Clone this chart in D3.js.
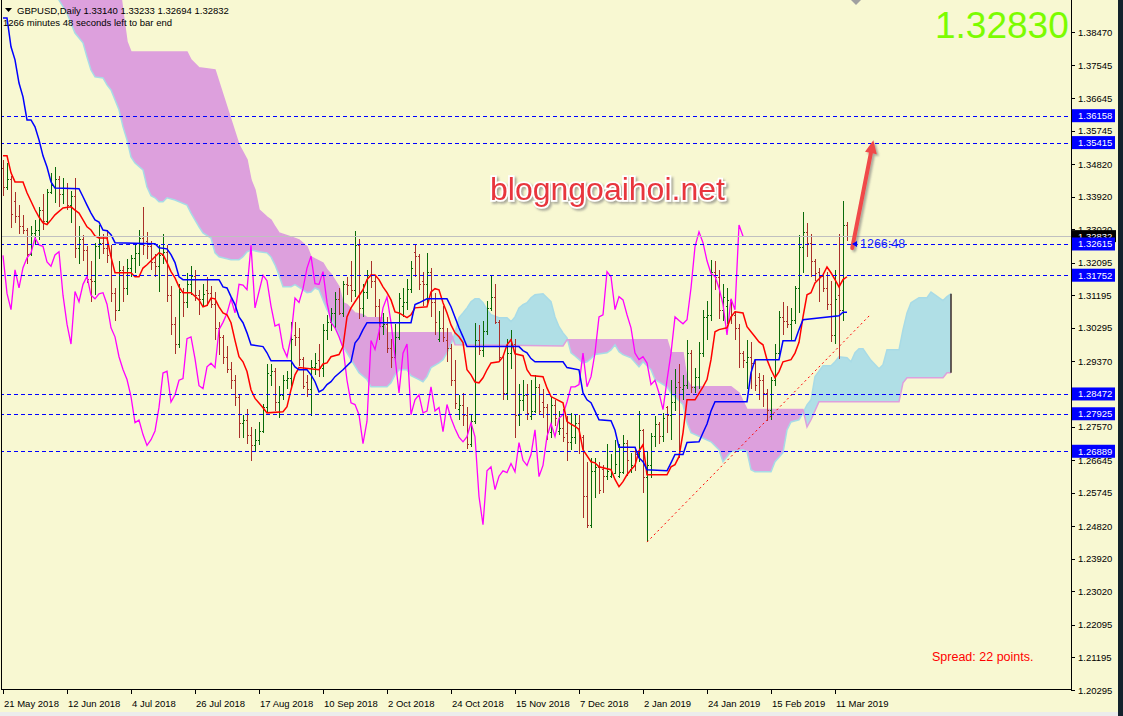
<!DOCTYPE html>
<html>
<head>
<meta charset="utf-8">
<script src="https://cdn.jsdelivr.net/npm/d3@7"></script>
<style>
  body { margin: 0; background: #f8f8d2; }
  svg { display: block; }
  text { font-family: "Liberation Sans", Arial, sans-serif; }
</style>
</head>
<body>
<svg id="chart" width="1123" height="716"></svg>
<script>
// GBPUSD daily, 21 May 2018 .. 14 Mar 2019 (bar index 0..211)
const dateLabels = ["21 May 2018", "12 Jun 2018", "4 Jul 2018", "26 Jul 2018", "17 Aug 2018", "10 Sep 2018", "2 Oct 2018",
  "24 Oct 2018", "15 Nov 2018", "7 Dec 2018", "2 Jan 2019", "24 Jan 2019", "15 Feb 2019", "11 Mar 2019"];
const dateLabelBars = [0, 16, 32, 48, 64, 80, 96, 112, 128, 144, 160, 176, 192, 208];

const priceTicks = [1.38470, 1.37545, 1.36645, 1.35745, 1.34820, 1.33920, 1.33020, 1.32095, 1.31195, 1.30295, 1.29370,
  1.27570, 1.26645, 1.25745, 1.24820, 1.23920, 1.23020, 1.22095, 1.21195, 1.20295];
const levels = [1.36158, 1.35415, 1.32615, 1.31752, 1.28472, 1.27925, 1.26889];
const bid = 1.32832;

const opens = [1.3470,1.3420,1.3440,1.3380,1.3340,1.3310,1.3300,1.3235,1.3292,1.3300,1.3355,1.3325,1.3405,1.3420,1.3440,1.3400,1.3415,1.3370,1.3395,1.3250,1.3275,1.3245,1.3165,1.3160,1.3255,1.3265,
  1.3250,1.3230,1.3125,1.3080,1.3190,1.3140,1.3196,1.3223,1.3237,1.3278,1.3270,1.3255,1.3212,1.3200,1.3231,1.3240,1.3120,1.3040,1.2985,1.3130,1.3102,1.3150,1.3172,1.3120,1.3110,1.3135,
  1.3127,1.3095,1.3030,1.3005,1.2950,1.2915,1.2887,1.2840,1.2768,1.2775,1.2735,1.2705,1.2721,1.2745,1.2810,1.2900,1.2910,1.2825,1.2845,1.2885,1.2890,1.3010,1.3005,1.2945,1.2880,1.2862,
  1.2922,1.2940,1.2920,1.3025,1.3045,1.3070,1.3110,1.3071,1.3150,1.3148,1.3135,1.3258,1.3085,1.3130,1.3175,1.3160,1.3090,1.3035,1.3040,1.2975,1.2950,1.3005,1.3090,1.3100,1.3138,1.3240,
  1.3228,1.3160,1.3150,1.3185,1.3100,1.3000,1.3030,1.2995,1.2975,1.2885,1.2805,1.2818,1.2790,1.2710,1.2772,1.2995,1.2970,1.3020,1.3085,1.3115,1.3045,1.2950,1.2850,1.2960,1.2985,1.2790,
  1.2831,1.2845,1.2785,1.2800,1.2867,1.2825,1.2810,1.2743,1.2818,1.2745,1.2752,1.2740,1.2715,1.2729,1.2768,1.2729,1.2564,1.2486,1.2635,1.2646,1.2640,1.2620,1.2620,1.2630,1.2620,1.2632,
  1.2713,1.2640,1.2690,1.2680,1.2748,1.2619,1.2650,1.2730,1.2765,1.2730,1.2810,1.2790,1.2825,1.2880,1.2860,1.2873,1.2960,1.2867,1.2895,1.2961,1.3060,1.3066,1.3185,1.3171,1.3080,1.3090,
  1.3107,1.3066,1.3030,1.2960,1.2935,1.2950,1.2933,1.2895,1.2885,1.2850,1.2804,1.2885,1.2960,1.3060,1.3050,1.3041,1.3052,1.3140,1.3254,1.3295,1.3265,1.3215,1.3185,1.3172,1.3140,1.3095,
  1.3010,1.3120,1.3080,1.3314];
const highs = [1.3494,1.3485,1.3448,1.3405,1.3370,1.3342,1.3305,1.3310,1.3328,1.3365,1.3400,1.3412,1.3458,1.3473,1.3448,1.3445,1.3430,1.3408,1.3445,1.3310,1.3285,1.3255,1.3215,1.3265,1.3315,1.3290,
  1.3300,1.3260,1.3140,1.3215,1.3200,1.3220,1.3230,1.3260,1.3300,1.3363,1.3295,1.3270,1.3235,1.3260,1.3290,1.3260,1.3145,1.3060,1.3150,1.3140,1.3180,1.3200,1.3190,1.3135,1.3150,1.3170,
  1.3145,1.3130,1.3045,1.3010,1.2980,1.2935,1.2900,1.2845,1.2790,1.2805,1.2755,1.2750,1.2770,1.2820,1.2930,1.2930,1.2920,1.2870,1.2900,1.2910,1.3045,1.3045,1.3030,1.2950,1.2900,1.2940,
  1.2960,1.2985,1.3040,1.3065,1.3085,1.3130,1.3140,1.3160,1.3170,1.3215,1.3298,1.3275,1.3150,1.3190,1.3215,1.3175,1.3110,1.3070,1.3060,1.3000,1.3040,1.3125,1.3140,1.3165,1.3215,1.3258,
  1.3235,1.3185,1.3237,1.3195,1.3125,1.3075,1.3090,1.3030,1.2985,1.2940,1.2845,1.2850,1.2810,1.2790,1.3043,1.3038,1.3050,1.3105,1.3176,1.3150,1.3052,1.2955,1.3000,1.3025,1.3000,1.2875,
  1.2885,1.2875,1.2885,1.2900,1.2875,1.2860,1.2820,1.2840,1.2830,1.2800,1.2805,1.2785,1.2795,1.2790,1.2790,1.2735,1.2660,1.2670,1.2670,1.2660,1.2650,1.2710,1.2680,1.2720,1.2710,1.2735,
  1.2720,1.2685,1.2700,1.2800,1.2750,1.2690,1.2740,1.2785,1.2770,1.2795,1.2815,1.2887,1.2915,1.2930,1.2900,1.2997,1.2970,1.2920,1.2990,1.3080,1.3105,1.3218,1.3215,1.3190,1.3150,1.3140,
  1.3110,1.3075,1.3040,1.2965,1.2997,1.2990,1.2940,1.2905,1.2900,1.2860,1.2895,1.2985,1.3075,1.3100,1.3090,1.3085,1.3145,1.3287,1.3350,1.3320,1.3290,1.3220,1.3195,1.3180,1.3185,1.3160,
  1.3190,1.3290,1.3380,1.3323];
const lows = [1.3395,1.3410,1.3306,1.3320,1.3290,1.3290,1.3205,1.3228,1.3262,1.3272,1.3300,1.3318,1.3400,1.3375,1.3365,1.3372,1.3355,1.3320,1.3222,1.3205,1.3215,1.3155,1.3100,1.3120,1.3220,1.3235,
  1.3210,1.3100,1.3050,1.3075,1.3100,1.3120,1.3170,1.3180,1.3200,1.3230,1.3220,1.3190,1.3170,1.3130,1.3205,1.3100,1.3010,1.2958,1.2975,1.3060,1.3085,1.3120,1.3105,1.3065,1.3090,1.3090,
  1.3085,1.2995,1.2955,1.2930,1.2905,1.2860,1.2815,1.2725,1.2725,1.2710,1.2662,1.2690,1.2705,1.2740,1.2795,1.2870,1.2800,1.2780,1.2830,1.2860,1.2860,1.2980,1.2925,1.2860,1.2840,1.2785,
  1.2900,1.2895,1.2895,1.2995,1.3020,1.3030,1.3065,1.3060,1.3120,1.3100,1.3115,1.3055,1.3060,1.3110,1.3140,1.3060,1.2995,1.3010,1.2960,1.2920,1.2935,1.2995,1.3060,1.3080,1.3125,1.3170,
  1.3135,1.3090,1.3090,1.3060,1.3010,1.2990,1.2990,1.2935,1.2870,1.2805,1.2775,1.2760,1.2696,1.2700,1.2765,1.2955,1.2950,1.3010,1.3075,1.3040,1.2935,1.2830,1.2830,1.2915,1.2725,1.2760,
  1.2800,1.2775,1.2775,1.2795,1.2790,1.2780,1.2720,1.2725,1.2760,1.2735,1.2715,1.2662,1.2693,1.2710,1.2680,1.2505,1.2477,1.2477,1.2560,1.2570,1.2575,1.2610,1.2615,1.2625,1.2615,1.2625,
  1.2620,1.2630,1.2635,1.2660,1.2575,1.2438,1.2615,1.2700,1.2710,1.2715,1.2740,1.2720,1.2800,1.2670,1.2830,1.2860,1.2850,1.2850,1.2860,1.2950,1.2995,1.3050,1.3135,1.3055,1.3050,1.3040,
  1.3040,1.2995,1.2920,1.2920,1.2860,1.2860,1.2855,1.2830,1.2810,1.2773,1.2775,1.2870,1.2945,1.3010,1.3030,1.2995,1.3040,1.3070,1.3180,1.3225,1.3170,1.3160,1.3100,1.3130,1.3080,1.2990,
  1.2985,1.2945,1.3050,1.3269];
const closes = [1.3420,1.3440,1.3345,1.3340,1.3310,1.3300,1.3235,1.3292,1.3300,1.3355,1.3325,1.3405,1.3425,1.3440,1.3400,1.3415,1.3370,1.3395,1.3250,1.3275,1.3245,1.3165,1.3160,1.3255,1.3265,1.3250,
  1.3230,1.3125,1.3080,1.3190,1.3140,1.3196,1.3223,1.3237,1.3278,1.3259,1.3255,1.3212,1.3200,1.3231,1.3240,1.3120,1.3040,1.2985,1.3130,1.3102,1.3150,1.3172,1.3120,1.3110,1.3124,1.3127,
  1.3095,1.3030,1.3005,1.2950,1.2915,1.2887,1.2840,1.2768,1.2775,1.2735,1.2705,1.2721,1.2745,1.2810,1.2905,1.2910,1.2825,1.2845,1.2885,1.2890,1.3000,1.3005,1.2945,1.2870,1.2862,1.2922,
  1.2932,1.2920,1.3025,1.3045,1.3070,1.3110,1.3071,1.3150,1.3148,1.3135,1.3258,1.3085,1.3130,1.3175,1.3160,1.3090,1.3035,1.3040,1.2975,1.2950,1.3005,1.3112,1.3100,1.3138,1.3195,1.3228,
  1.3152,1.3150,1.3185,1.3100,1.3045,1.3030,1.3005,1.2975,1.2885,1.2823,1.2818,1.2790,1.2710,1.2772,1.2995,1.2970,1.3020,1.3085,1.3115,1.3045,1.2950,1.2850,1.2960,1.2985,1.2790,1.2831,
  1.2845,1.2795,1.2800,1.2867,1.2800,1.2810,1.2743,1.2818,1.2780,1.2752,1.2728,1.2715,1.2729,1.2768,1.2729,1.2564,1.2486,1.2635,1.2646,1.2583,1.2620,1.2635,1.2630,1.2655,1.2632,1.2713,
  1.2664,1.2650,1.2680,1.2748,1.2619,1.2650,1.2730,1.2765,1.2730,1.2780,1.2790,1.2825,1.2867,1.2867,1.2873,1.2960,1.2867,1.2895,1.2961,1.3060,1.3066,1.3185,1.3171,1.3080,1.3116,1.3107,
  1.3066,1.3030,1.2960,1.2942,1.2950,1.2933,1.2873,1.2885,1.2850,1.2804,1.2885,1.2960,1.3060,1.3050,1.3041,1.3052,1.3140,1.3254,1.3295,1.3265,1.3215,1.3180,1.3172,1.3140,1.3095,1.3010,
  1.3110,1.3080,1.3314,1.3283];

// Ichimoku lines as [bar index, price] vertices
const tenkan = [[0,1.3505],[1,1.3505],[2,1.3458],[3,1.3433],[5,1.3433],[6,1.3403],[8,1.3356],[9,1.3336],[10,1.3320],[11,1.3315],[12,1.3328],[13,1.3342],[15,1.3361],[17,1.3364],[18,1.3355],[19,1.3347],[20,1.3328],[21,1.3309],[22,1.3300],[23,1.3284],[24,1.3278],[26,1.3278],[27,1.3226],[28,1.3182],[32,1.3182],[33,1.3171],[34,1.3171],[35,1.3195],[36,1.3204],[37,1.3215],[38,1.3226],[39,1.3237],[40,1.3232],[41,1.3210],[42,1.3185],[43,1.3168],[44,1.3143],[45,1.3127],[47,1.3127],[49,1.3107],[50,1.3088],[51,1.3092],[52,1.3112],[53,1.3110],[54,1.3088],[55,1.3071],[56,1.3066],[57,1.3044],[58,1.2995],[59,1.2950],[60,1.2936],[61,1.2909],[62,1.2859],[63,1.2835],[64,1.2822],[65,1.2809],[66,1.2795],[70,1.2798],[71,1.2812],[72,1.2859],[73,1.2900],[74,1.2920],[79,1.2914],[80,1.2930],[81,1.2933],[82,1.2950],[84,1.2956],[85,1.2978],[86,1.3060],[87,1.3085],[88,1.3102],[90,1.3135],[91,1.3163],[92,1.3176],[93,1.3176],[94,1.3163],[95,1.3143],[96,1.3127],[97,1.3107],[98,1.3074],[99,1.3071],[101,1.3058],[102,1.3066],[103,1.3085],[106,1.3088],[107,1.3129],[108,1.3138],[109,1.3135],[110,1.3099],[111,1.3071],[112,1.3038],[113,1.3016],[114,1.3005],[115,1.2989],[116,1.2914],[117,1.2900],[118,1.2880],[119,1.2878],[120,1.2892],[121,1.2914],[122,1.2933],[124,1.2936],[125,1.2950],[126,1.2983],[127,1.2997],[128,1.2958],[130,1.2953],[131,1.2914],[132,1.2898],[135,1.2895],[136,1.2864],[137,1.2840],[140,1.2823],[141,1.2771],[142,1.2764],[143,1.2758],[144,1.2749],[145,1.2693],[147,1.2660],[148,1.2657],[149,1.2646],[152,1.2638],[153,1.2611],[154,1.2591],[155,1.2605],[156,1.2624],[157,1.2638],[158,1.2650],[159,1.2690],[160,1.2707],[161,1.2624],[166,1.2624],[167,1.2646],[168,1.2652],[169,1.2674],[170,1.2740],[171,1.2831],[173,1.2831],[175,1.2867],[176,1.2887],[177,1.2942],[178,1.3019],[179,1.3025],[181,1.3030],[182,1.3060],[183,1.3074],[185,1.3071],[186,1.3033],[187,1.3019],[188,1.3005],[189,1.2991],[190,1.2983],[191,1.2942],[192,1.2914],[193,1.2892],[194,1.2909],[195,1.2936],[197,1.2942],[198,1.2960],[199,1.2990],[200,1.3060],[201,1.3121],[202,1.3127],[203,1.3154],[205,1.3176],[206,1.3198],[207,1.3182],[208,1.3163],[209,1.3143],[210,1.3163],[211,1.3171]];
const kijun = [[0,1.3886],[1,1.3886],[2,1.3806],[3,1.3770],[4,1.3706],[5,1.3668],[6,1.3604],[7,1.3604],[8,1.3585],[9,1.3549],[10,1.3505],[11,1.3474],[12,1.3433],[13,1.3416],[19,1.3414],[20,1.3392],[21,1.3369],[22,1.3347],[23,1.3328],[24,1.3322],[25,1.3300],[26,1.3298],[27,1.3287],[28,1.3265],[38,1.3262],[39,1.3251],[41,1.3248],[42,1.3232],[43,1.3210],[44,1.3171],[45,1.3163],[54,1.3163],[55,1.3143],[56,1.3140],[57,1.3116],[58,1.3094],[59,1.3060],[60,1.3044],[61,1.3016],[62,1.2983],[65,1.2978],[66,1.2961],[67,1.2939],[72,1.2939],[73,1.2922],[74,1.2914],[76,1.2914],[77,1.2900],[78,1.2881],[79,1.2853],[80,1.2859],[81,1.2873],[82,1.2881],[83,1.2895],[85,1.2914],[87,1.2936],[88,1.2988],[89,1.3002],[90,1.3025],[91,1.3044],[102,1.3044],[103,1.3094],[104,1.3099],[106,1.3110],[111,1.3110],[112,1.3088],[114,1.3030],[115,1.3005],[116,1.2978],[129,1.2978],[130,1.2967],[131,1.2961],[132,1.2945],[133,1.2936],[140,1.2936],[141,1.2920],[144,1.2914],[145,1.2850],[146,1.2831],[147,1.2823],[148,1.2800],[149,1.2776],[152,1.2773],[153,1.2747],[154,1.2700],[158,1.2700],[159,1.2671],[160,1.2660],[161,1.2638],[166,1.2635],[167,1.2657],[168,1.2680],[170,1.2680],[171,1.2713],[174,1.2715],[175,1.2740],[176,1.2764],[177,1.2800],[178,1.2826],[186,1.2826],[187,1.2906],[188,1.2942],[194,1.2942],[195,1.2994],[198,1.2994],[199,1.3025],[200,1.3052],[209,1.3063],[210,1.3073],[211,1.3073]];
const spanA = [[13,1.3965],[14,1.3935],[16,1.3899],[18,1.3844],[20,1.3817],[21,1.3778],[22,1.3742],[23,1.3723],[25,1.3720],[26,1.3701],[27,1.3687],[29,1.3632],[30,1.3585],[31,1.3549],[32,1.3502],[33,1.3485],[35,1.3466],[36,1.3419],[37,1.3395],[38,1.3389],[39,1.3378],[40,1.3378],[41,1.3389],[43,1.3383],[46,1.3369],[47,1.3347],[49,1.3309],[50,1.3292],[52,1.3278],[53,1.3237],[54,1.3226],[57,1.3218],[59,1.3218],[60,1.3226],[61,1.3240],[62,1.3245],[64,1.3240],[66,1.3237],[67,1.3226],[68,1.3204],[69,1.3176],[70,1.3143],[72,1.3143],[73,1.3149],[75,1.3135],[76,1.3127],[77,1.3129],[78,1.3140],[79,1.3135],[80,1.3107],[81,1.3080],[82,1.3060],[83,1.3033],[84,1.3011],[85,1.2978],[86,1.2961],[87,1.2942],[89,1.2906],[91,1.2887],[92,1.2867],[96,1.2867],[97,1.2878],[98,1.2900],[99,1.2914],[101,1.2914],[102,1.2898],[104,1.2887],[105,1.2881],[106,1.2895],[107,1.2920],[109,1.2933],[110,1.2942],[111,1.2961],[112,1.2983],[113,1.3016],[114,1.3058],[115,1.3071],[116,1.3085],[117,1.3102],[118,1.3110],[119,1.3110],[120,1.3099],[121,1.3080],[122,1.3066],[124,1.3058],[126,1.3058],[127,1.3047],[128,1.3060],[129,1.3085],[130,1.3094],[131,1.3099],[132,1.3113],[133,1.3121],[135,1.3124],[137,1.3102],[138,1.3060],[139,1.3033],[140,1.3016],[141,1.3002],[142,1.2961],[143,1.2952],[145,1.2933],[146,1.2936],[147,1.2945],[148,1.2956],[151,1.2961],[152,1.2969],[153,1.2983],[154,1.2964],[155,1.2956],[157,1.2947],[159,1.2922],[160,1.2936],[162,1.2914],[163,1.2887],[166,1.2867],[167,1.2850],[170,1.2818],[171,1.2768],[172,1.2740],[177,1.2715],[179,1.2693],[180,1.2660],[181,1.2674],[182,1.2688],[185,1.2693],[186,1.2688],[187,1.2638],[188,1.2632],[192,1.2632],[193,1.2660],[195,1.2685],[196,1.2748],[197,1.2770],[199,1.2776],[200,1.2795],[201,1.2817],[202,1.2831],[203,1.2895],[205,1.2925],[207,1.2925],[208,1.2936],[209,1.2950],[211,1.2947],[212,1.2936],[213,1.2961],[214,1.2972],[215,1.2972],[216,1.2956],[217,1.2940],[219,1.2917],[220,1.2928],[221,1.2969],[224,1.2969],[225,1.3025],[226,1.3071],[227,1.3099],[229,1.3113],[231,1.3113],[232,1.3129],[233,1.3121],[235,1.3105],[236,1.3116],[237,1.3124]];
const spanB = [[13,1.4004],[24,1.4004],[29,1.3990],[30,1.3900],[31,1.3820],[32,1.3792],[46,1.3792],[47,1.3770],[49,1.3748],[53,1.3742],[55,1.3673],[57,1.3604],[59,1.3535],[61,1.3494],[62,1.3438],[63,1.3411],[64,1.3356],[66,1.3336],[67,1.3328],[68,1.3309],[69,1.3292],[72,1.3281],[74,1.3273],[76,1.3254],[77,1.3226],[78,1.3220],[80,1.3209],[81,1.3190],[82,1.3178],[84,1.3143],[85,1.3099],[86,1.3094],[88,1.3071],[90,1.3066],[91,1.3058],[95,1.3058],[96,1.3016],[112,1.3016],[113,1.2983],[140,1.2980],[141,1.2997],[166,1.2997],[167,1.2961],[170,1.2961],[171,1.2887],[172,1.2867],[182,1.2867],[184,1.2850],[186,1.2804],[200,1.2804],[201,1.2756],[202,1.2776],[204,1.2826],[224,1.2826],[225,1.2878],[226,1.2892],[235,1.2892],[236,1.2906],[237,1.2906]];

// hand-drawn objects on the chart
const trendFrom = [161, 1.2438], trendTo = [217, 1.3068];
const arrowFrom = [212.3, 1.3250], arrowTo = [217.6, 1.3548];

const W = 1123, H = 716;
const plotRight = 1071, plotBottom = 689;
const x = d3.scaleLinear().domain([0, 211]).range([3, 847]);
const y = d3.scaleLinear().domain([1.20295, 1.38470]).range([690, 32]);

const svg = d3.select("#chart");
svg.append("rect").attr("width", W).attr("height", H).attr("fill", "#f8f8d2");
const defs = svg.append("defs");
defs.append("clipPath").attr("id", "plotClip")
  .append("rect").attr("x", 1).attr("y", 0).attr("width", plotRight - 1).attr("height", plotBottom);

const toPix = arr => arr.map(([i, p]) => [x(i), y(p)]);
const line = d3.line();
const aPix = toPix(spanA), bPix = toPix(spanB);
const left = bPix[0][0] - 4, right = bPix[bPix.length - 1][0] + 4;
defs.append("clipPath").attr("id", "aboveB").append("path")
  .attr("d", line([...bPix, [right, -100], [left, -100]]) + "Z");
defs.append("clipPath").attr("id", "belowB").append("path")
  .attr("d", line([...bPix, [right, 900], [left, 900]]) + "Z");

const shadow = defs.append("filter").attr("id", "shadow").attr("x", "-20%").attr("y", "-20%").attr("width", "140%").attr("height", "140%");
shadow.append("feDropShadow").attr("dx", 2).attr("dy", 2).attr("stdDeviation", 1.2).attr("flood-color", "#777").attr("flood-opacity", 0.6);

const g = svg.append("g").attr("clip-path", "url(#plotClip)");

// kumo
const cloud = line([...aPix, ...bPix.slice().reverse()]) + "Z";
g.append("path").attr("d", cloud).attr("fill", "#dda0dd").attr("clip-path", "url(#belowB)");
g.append("path").attr("d", cloud).attr("fill", "#b0dfe6").attr("clip-path", "url(#aboveB)");
g.append("path").attr("d", line(aPix)).attr("fill", "none").attr("stroke", "#a8dbe6").attr("stroke-width", 1.5);
g.append("path").attr("d", line(bPix)).attr("fill", "none").attr("stroke", "#dda0dd").attr("stroke-width", 1.5);
// last cloud bar edge
g.append("line")
  .attr("x1", x(237)).attr("x2", x(237))
  .attr("y1", y(spanA[spanA.length - 1][1])).attr("y2", y(spanB[spanB.length - 1][1]))
  .attr("stroke", "#3a2a2a").attr("stroke-width", 1.5);

// OHLC bars
const bars = g.append("g").attr("fill", "none").attr("shape-rendering", "crispEdges");
bars.selectAll("path").data(d3.range(closes.length)).join("path")
  .attr("d", i => {
    const cx = Math.round(x(i)) + 0.5;
    const yo = Math.round(y(opens[i])) + 0.5, yc = Math.round(y(closes[i])) + 0.5;
    return `M${cx},${y(highs[i])}V${y(lows[i])}M${cx - 1.5},${yo}H${cx}M${cx},${yc}H${cx + 1.5}`;
  })
  .attr("stroke", i => closes[i] >= opens[i] ? "#0a6a0a" : "#a8302a");

// chikou span = closes shifted back 26 bars
const chikou = d3.line().x((d, i) => x(i)).y(d => y(d));
g.append("path").attr("d", chikou(closes.slice(26)))
  .attr("fill", "none").attr("stroke", "#ff00ff").attr("stroke-width", 1.3);

const vline = d3.line().x(d => x(d[0])).y(d => y(d[1]));
g.append("path").attr("d", vline(tenkan)).attr("fill", "none").attr("stroke", "#ff0000").attr("stroke-width", 1.5);
g.append("path").attr("d", vline(kijun)).attr("fill", "none").attr("stroke", "#0000ff").attr("stroke-width", 1.5);

// bid line and horizontal levels
g.append("line").attr("x1", 0).attr("x2", plotRight).attr("y1", Math.round(y(bid)) + 0.5).attr("y2", Math.round(y(bid)) + 0.5)
  .attr("stroke", "#c0c0c0");
g.append("g").selectAll("line").data(levels).join("line")
  .attr("x1", 0).attr("x2", plotRight)
  .attr("y1", d => Math.round(y(d)) + 0.5).attr("y2", d => Math.round(y(d)) + 0.5)
  .attr("stroke", "#0000ff").attr("stroke-dasharray", "4,3");

// trend line
g.append("path").attr("d", vline([trendFrom, trendTo]))
  .attr("stroke", "#ff0000").attr("stroke-width", 1).attr("stroke-dasharray", "2,3");

// arrow
const ax0 = x(arrowFrom[0]), ay0 = y(arrowFrom[1]), ax1 = x(arrowTo[0]), ay1 = y(arrowTo[1]);
const ang = Math.atan2(ay1 - ay0, ax1 - ax0);
const headLen = 13, headW = 6;
const bx = ax1 - headLen * Math.cos(ang), by = ay1 - headLen * Math.sin(ang);
const arrow = g.append("g").attr("filter", "url(#shadow)");
arrow.append("line").attr("x1", ax0).attr("y1", ay0).attr("x2", bx).attr("y2", by)
  .attr("stroke", "#f04a4a").attr("stroke-width", 4).attr("stroke-linecap", "round");
arrow.append("path")
  .attr("d", `M${ax1},${ay1}L${bx + headW * Math.sin(ang)},${by - headW * Math.cos(ang)}L${bx - headW * Math.sin(ang)},${by + headW * Math.cos(ang)}Z`)
  .attr("fill", "#f04a4a");

// countdown near last bar
const cy = y(levels[2]);
g.append("path").attr("d", `M${x(211) + 5},${cy}l5,-3v6z`).attr("fill", "#0000ff");
g.append("text").attr("x", 860).attr("y", cy + 4.5).attr("font-size", 12.5).attr("fill", "#1a2cff").text("1266:48");

// watermark
svg.append("text").attr("x", 490).attr("y", 200).attr("font-size", 32)
  .attr("fill", "#e8343c").attr("stroke", "#ffffff").attr("stroke-width", 3.5)
  .attr("paint-order", "stroke").attr("filter", "url(#shadow)")
  .text("blogngoaihoi.net");

// frame
svg.append("path").attr("d", `M1.5,0V${plotBottom + 0.5}H${plotRight + 0.5}V0`)
  .attr("fill", "none").attr("stroke", "#000").attr("shape-rendering", "crispEdges");

// right price axis
const axis = svg.append("g");
axis.selectAll("line").data(priceTicks).join("line")
  .attr("x1", plotRight).attr("x2", plotRight + 4)
  .attr("y1", d => Math.round(y(d)) + 0.5).attr("y2", d => Math.round(y(d)) + 0.5)
  .attr("stroke", "#000");
axis.selectAll("text").data(priceTicks).join("text")
  .attr("x", 1078).attr("y", d => y(d) + 3.5).attr("font-size", 9.5).attr("fill", "#000")
  .text(d => d.toFixed(5));

const bidBox = svg.append("g");
bidBox.append("rect").attr("x", plotRight + 1).attr("y", y(bid) - 6).attr("width", 44).attr("height", 12).attr("fill", "#000");
bidBox.append("text").attr("x", 1078).attr("y", y(bid) + 3.5).attr("font-size", 9.5).attr("fill", "#fff").text(bid.toFixed(5));

const lvl = svg.append("g").selectAll("g").data(levels).join("g");
lvl.append("rect").attr("x", plotRight + 1).attr("y", d => y(d) - 6.5).attr("width", 43).attr("height", 13).attr("fill", "#0000ff");
lvl.append("text").attr("x", 1078).attr("y", d => y(d) + 3.5).attr("font-size", 9.5).attr("fill", "#fff").text(d => d.toFixed(5));

// time axis
const tAxis = svg.append("g");
tAxis.selectAll("line").data(dateLabelBars).join("line")
  .attr("x1", d => Math.round(x(d)) + 0.5).attr("x2", d => Math.round(x(d)) + 0.5)
  .attr("y1", plotBottom).attr("y2", plotBottom + 5).attr("stroke", "#000");
tAxis.selectAll("text").data(dateLabelBars).join("text")
  .attr("x", d => x(d) + 1).attr("y", 707).attr("font-size", 9.5).attr("fill", "#000")
  .text((d, i) => dateLabels[i]);

// header texts
svg.append("path").attr("d", "M5,8h7l-3.5,4z").attr("fill", "#000");
svg.append("text").attr("x", 17).attr("y", 14).attr("font-size", 9.5).attr("fill", "#000")
  .text("GBPUSD,Daily  1.33140 1.33233 1.32694 1.32832");
svg.append("text").attr("x", 3).attr("y", 26).attr("font-size", 9.5).attr("fill", "#000")
  .text("1266 minutes 48 seconds left to bar end");
svg.append("text").attr("x", 935).attr("y", 38).attr("font-size", 37).attr("fill", "#7cfc00")
  .text("1.32830");
svg.append("text").attr("x", 932).attr("y", 661).attr("font-size", 12.5).attr("fill", "#ff0000")
  .text("Spread: 22 points.");

// chart shift marker and window edge
svg.append("path").attr("d", `M${x(212)},0h10l-5,5z`).attr("fill", "#a0a0a0");
svg.append("rect").attr("x", 1118).attr("y", 0).attr("width", 5).attr("height", H).attr("fill", "#13222c");
svg.append("rect").attr("x", 0).attr("y", 712).attr("width", 1118).attr("height", 4).attr("fill", "#ececec");
</script>
</body>
</html>
